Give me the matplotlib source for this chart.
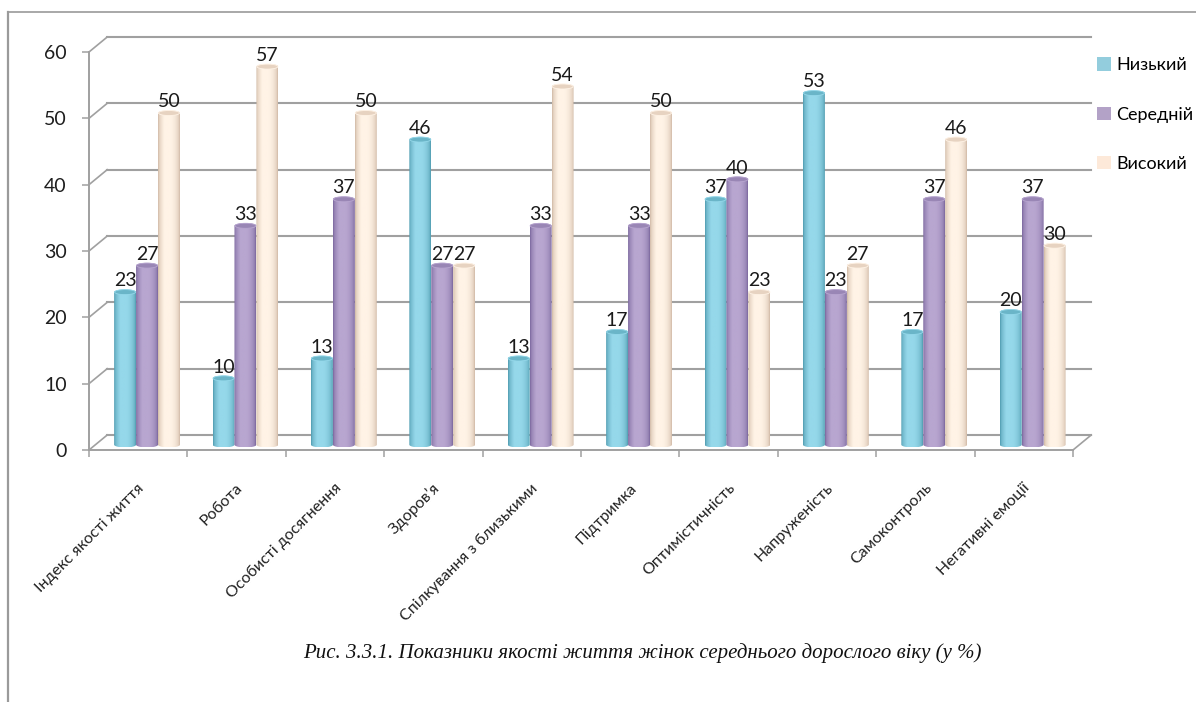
import numpy as np
import matplotlib
matplotlib.use("Agg")
import matplotlib.pyplot as plt
from matplotlib.path import Path
from matplotlib.patches import PathPatch, Ellipse, Patch
from matplotlib.lines import Line2D

# ---- data -------------------------------------------------------------
categories = ["Індекс якості життя", "Робота", "Особисті досягнення", "Здоров’я",
              "Спілкування з близькими", "Підтримка", "Оптимістичність",
              "Напруженість", "Самоконтроль", "Негативні емоції"]
series_names = ["Низький", "Середній", "Високий"]
low_vals = [23, 10, 13, 46, 13, 17, 37, 53, 17, 20]
mid_vals = [27, 33, 37, 27, 33, 33, 40, 23, 37, 37]
high_vals = [50, 57, 50, 27, 54, 50, 23, 27, 46, 30]
y_ticks = [0, 10, 20, 30, 40, 50, 60]
caption = "Рис. 3.3.1. Показники якості життя жінок середнього дорослого віку (у %)"

# ---- styling ----------------------------------------------------------
plt.rcParams['font.family'] = ['Lato', 'DejaVu Sans']
GRID = '#a0a0a0'
light_cols = ['#95d8ea', '#b8a6d0', '#fff3e6']
dark_cols = ['#4794a9', '#735f97', '#cbb29d']
cap_cols = ['#6ab5c8', '#9986b5', '#e7d3c1']
legend_cols = ['#93cddd', '#b3a2c7', '#fde9d9']

W, H = 1196, 702
fig = plt.figure(figsize=(W / 100, H / 100), dpi=100)
ax = fig.add_axes([89 / W, 1 - 450 / H, (1073 - 89) / W, (450 - 52) / H])
ax.set_xlim(0, 10)
ax.set_ylim(0, 60)

# depth offsets of the pseudo-3D box (data units)
DX_BACK, DY_BACK = 0.185, 2.26
DX_BAR, DY_BAR = 0.09, 0.8
CAP = 0.42          # half-height of the bar caps

# back wall grid lines with their side connectors
for v in y_ticks:
    ax.plot([DX_BACK, 10 + DX_BACK], [v + DY_BACK, v + DY_BACK], color=GRID,
            lw=1.5, clip_on=False, zorder=1)
    ax.plot([0, DX_BACK], [v, v + DY_BACK], color=GRID, lw=1.2,
            clip_on=False, zorder=1)
ax.plot([10, 10 + DX_BACK], [0, DY_BACK], color=GRID, lw=1.2, clip_on=False, zorder=1)

# axes lines
for s in ['top', 'right']:
    ax.spines[s].set_visible(False)
for s in ['left', 'bottom']:
    ax.spines[s].set_color(GRID)
    ax.spines[s].set_linewidth(1.4)
ax.set_yticks(y_ticks)
ax.set_yticklabels([str(t) for t in y_ticks], fontsize=14, color='#1e1e1e')
ax.tick_params(axis='y', length=5, width=1.1, color=GRID, pad=11)
ax.set_xticks(np.arange(0, 11))
ax.set_xticklabels([])
ax.tick_params(axis='x', length=5, width=1.1, color=GRID, direction='out')
ax.set_facecolor('none')


def cylinder(xc, width, value, k):
    x0, x1 = xc - width / 2, xc + width / 2
    yb, yt = DY_BAR, value + DY_BAR
    t = np.linspace(0, 1, 80)
    w = np.clip(np.sin(np.pi * t), 0, 1) ** 0.45
    w = np.clip(w + 0.12 * np.exp(-((t - 0.35) / 0.15) ** 2), 0, 1)
    lc = np.array(matplotlib.colors.to_rgb(light_cols[k]))
    dc = np.array(matplotlib.colors.to_rgb(dark_cols[k]))
    img = dc[None, :] + (lc - dc)[None, :] * w[:, None]
    img = np.clip(img, 0, 1)[None, :, :]
    im = ax.imshow(img, extent=(x0, x1, yb - CAP, yt + CAP), aspect='auto',
                   interpolation='bilinear', zorder=3)
    a = np.linspace(np.pi, 2 * np.pi, 30)
    bottom = np.column_stack([xc + width / 2 * np.cos(a), yb + CAP * np.sin(a)])
    a2 = np.linspace(0, np.pi, 30)
    top = np.column_stack([xc + width / 2 * np.cos(a2), yt + CAP * np.sin(a2)])
    verts = np.vstack([bottom, top, bottom[:1]])
    clip = PathPatch(Path(verts), transform=ax.transData, facecolor='none',
                     edgecolor='none')
    ax.add_patch(clip)
    im.set_clip_path(clip)
    ax.add_patch(Ellipse((xc, yt), width * 0.96, 2 * CAP * 0.9, facecolor=cap_cols[k],
                         edgecolor=light_cols[k], lw=0.6, zorder=4))
    ax.text(xc, yt + CAP, str(value), ha='center', va='bottom', fontsize=14,
            color='#1a1a1a', zorder=5)


bar_w = 0.223
all_series = [low_vals, mid_vals, high_vals]
for i in range(len(categories)):
    centre = i + 0.5 + DX_BAR
    for k, vals in enumerate(all_series):
        cylinder(centre + (k - 1) * bar_w, bar_w, vals[i], k)

ax.set_xlim(0, 10)
ax.set_ylim(0, 60)

# category labels
lab_tr = ax.transData + matplotlib.transforms.ScaledTranslation(
    4 / 100, -36 / 100, fig.dpi_scale_trans)
for i, name in enumerate(categories):
    ax.text(i + 0.5, 0, name, rotation=45, rotation_mode='anchor', ha='right',
            va='center', fontsize=11.5, color='#222222', transform=lab_tr)

# legend
handles = [Patch(facecolor=c, edgecolor='none') for c in legend_cols]
fig.legend(handles, series_names, loc='upper left',
           bbox_to_anchor=(1090 / W, 1 - 50 / H), frameon=False, fontsize=13,
           handlelength=0.75, handleheight=0.75, handletextpad=0.3,
           labelspacing=1.85, borderaxespad=0)

# caption
fig.text(642 / W, 1 - 653 / H, caption, ha='center', va='center', fontsize=15,
         style='italic', family=['Liberation Serif', 'DejaVu Serif'], color='#111111')

# outer frame
fig.add_artist(Line2D([8 / W, 1], [1 - 12 / H, 1 - 12 / H], color='#9a9a9a', lw=1.2,
                      transform=fig.transFigure))
fig.add_artist(Line2D([8 / W, 8 / W], [0, 1 - 12 / H], color='#9a9a9a', lw=1.6,
                      transform=fig.transFigure))

fig.savefig('out.png', dpi=100, facecolor='white')
